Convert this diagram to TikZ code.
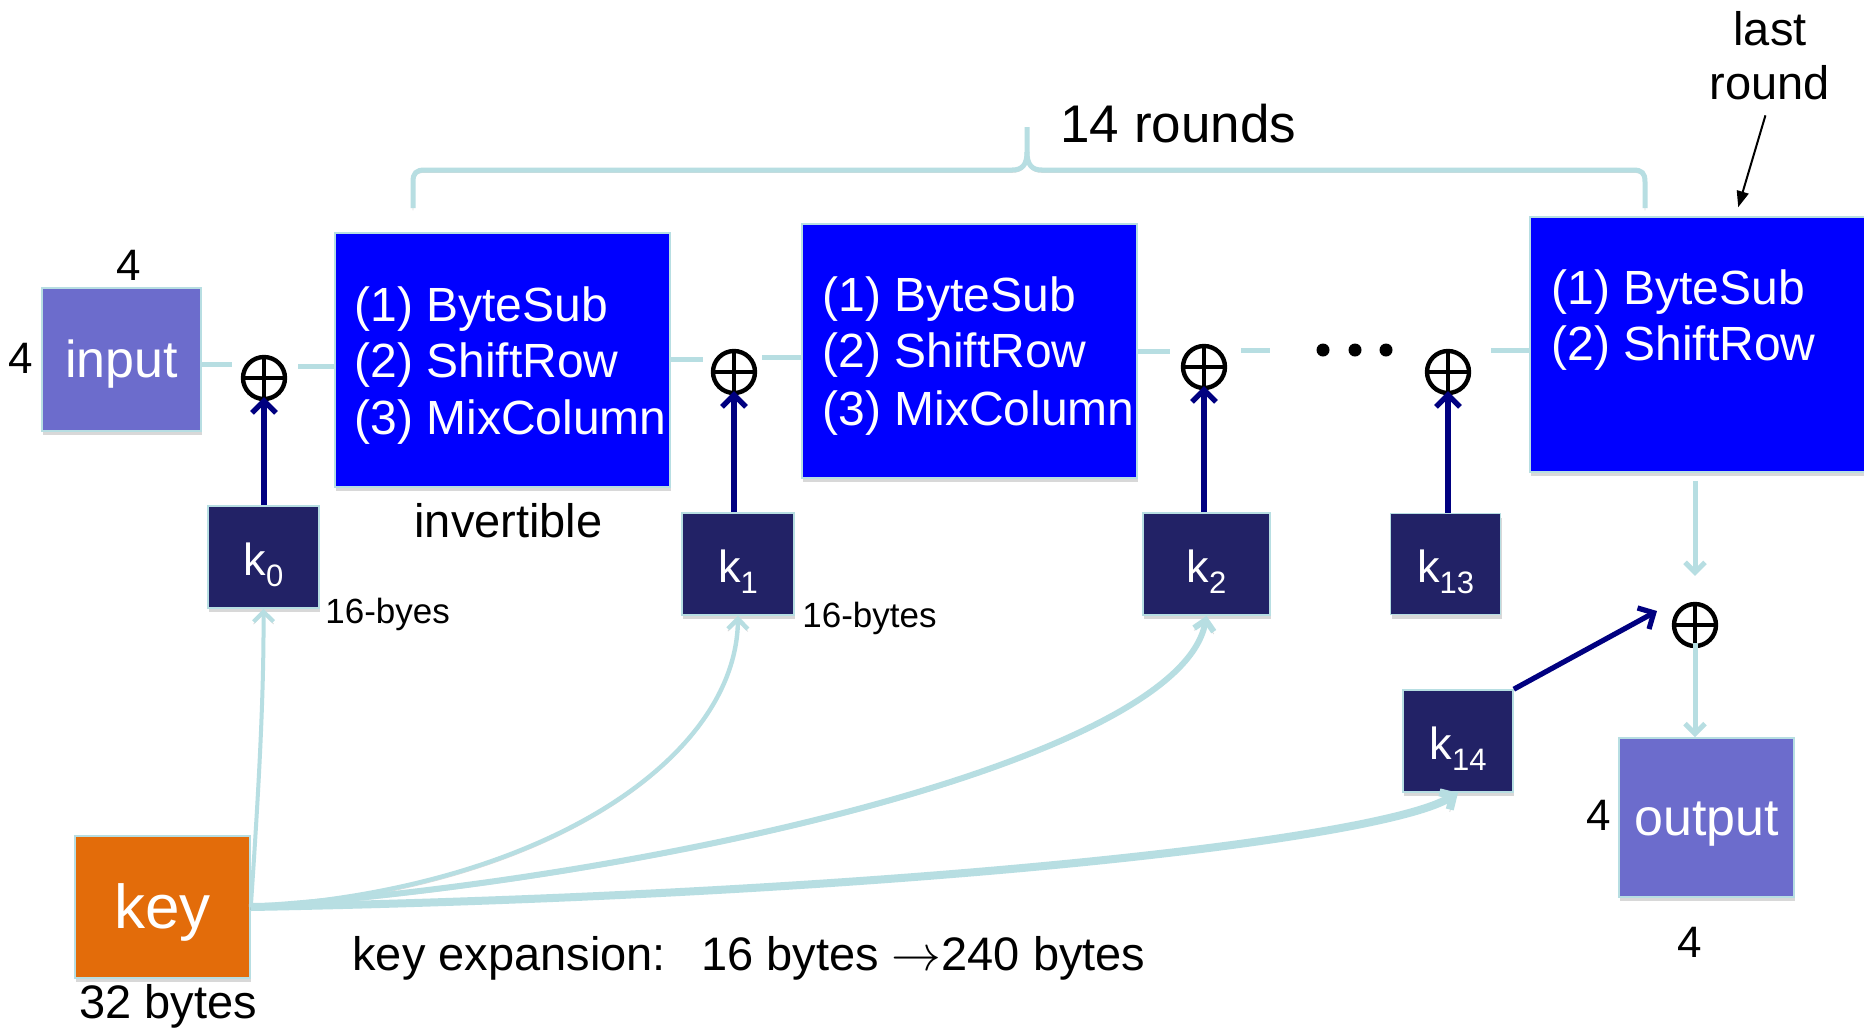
\documentclass[tikz,border=0pt]{standalone}
\usepackage{fontspec}
\setmainfont{Liberation Sans}
\usetikzlibrary{arrows.meta,calc,shadows}
\definecolor{lightc}{RGB}{183,222,226}
\definecolor{roundblue}{RGB}{0,0,255}
\definecolor{ioblue}{RGB}{108,108,204}
\definecolor{kblue}{RGB}{34,34,102}
\definecolor{keyorange}{RGB}{227,108,10}
\definecolor{navyc}{RGB}{0,0,128}
\newcommand\kk[1]{k\raisebox{-5.5pt}{\fontsize{15.5}{18}\selectfont #1}}
\begin{document}
\begin{tikzpicture}[x=0.5pt,y=-0.5pt,
  box/.style={draw=lightc, line width=0.8pt, inner sep=0pt, text=white,
    drop shadow={shadow xshift=0.6pt, shadow yshift=-2pt, opacity=0.3}},
  iobox/.style={box, fill=ioblue, font=\fontsize{26}{30}\selectfont, text height=20pt, text depth=2.5pt},
  roundbox/.style={box, fill=roundblue},
  kbox/.style={box, fill=kblue, font=\fontsize{22.5}{26}\selectfont, text height=20pt, text depth=2pt},
  keybox/.style={box, fill=keyorange, font=\fontsize{31}{36}\selectfont, text height=23pt, text depth=2pt},
  roundtxt/.style={anchor=base west, text=white, inner sep=0pt, font=\fontsize{24}{28}\selectfont},
  xorc/.style={circle, draw=black, line width=2.2pt, minimum size=21pt, inner sep=0pt,
    path picture={\draw[line width=1.6pt] (path picture bounding box.north) -- (path picture bounding box.south)
      (path picture bounding box.west) -- (path picture bounding box.east);}},
  lightline/.style={draw=lightc, line width=2.5pt,
    preaction={draw=black, opacity=0.15, transform canvas={yshift=-1.2pt}}},
  lightarrow/.style={lightline, -{Straight Barb[length=5pt,width=10pt]}},
  darkarrow/.style={draw=navyc, line width=2.6pt, -{Straight Barb[length=6pt,width=12pt]}},
  lbl/.style={inner sep=0pt, font=\fontsize{23.5}{28}\selectfont},
  four/.style={inner sep=0pt, font=\fontsize{22}{26}\selectfont},
  small/.style={anchor=base west, inner sep=0pt, font=\fontsize{17.5}{21}\selectfont},
  dot/.style={circle, fill=black, minimum size=6.5pt, inner sep=0pt}
]
\useasboundingbox (0,0) rectangle (1864,1029);
\fill[white] (0,0) rectangle (1864,1029);

% key and round-key boxes
\node[keybox, minimum width=87.5pt, minimum height=71pt] (key) at (162.5,907) {key};
\node[kbox, minimum width=55.5pt, minimum height=51pt] (k0) at (263.5,557) {\kk{0}};
\node[kbox, minimum width=56pt, minimum height=51pt] (k1) at (738,564) {\kk{1}};
\node[kbox, minimum width=63.5pt, minimum height=51pt] (k2) at (1206.5,564) {\kk{2}};
\node[kbox, minimum width=55pt, minimum height=50.5pt] (k13) at (1445.5,564) {\kk{13}};
\node[kbox, minimum width=55pt, minimum height=51pt] (k14) at (1458,741) {\kk{14}};

% key expansion curves
\draw[lightarrow, line width=2pt] (key.east) .. controls (258,800) and (264,700) .. (k0.south);
\draw[lightarrow, line width=2.2pt] (key.east) .. controls (540,890) and (736,760) .. (k1.south);
\draw[lightarrow, line width=3pt] (key.east) .. controls (650,880) and (1180,760) .. (k2.south);
\draw[lightarrow, line width=4pt] (key.east) .. controls (900,895) and (1380,840) .. (k14.south);

% main boxes
\node[iobox, minimum width=79.5pt, minimum height=71.5pt] (input) at (121.5,359.5) {input};
\node[roundbox, minimum width=167.5pt, minimum height=127pt] (b1) at (502.5,360) {};
\node[roundbox, minimum width=167.5pt, minimum height=127pt] (b2) at (969.5,351) {};
\node[roundbox, minimum width=172.5pt, minimum height=127.5pt] (b3) at (1702.5,344.5) {};
\node[iobox, minimum width=87.5pt, minimum height=79.5pt] (output) at (1706.5,817.5) {output};

\node[roundtxt] (t11) at ($(b1.north west)+(20,89)$) {(1) ByteSub};
\node[roundtxt] (t12) at ($(b1.north west)+(20,145)$) {(2) ShiftRow};
\node[roundtxt] (t13) at ($(b1.north west)+(20,202)$) {(3) MixColumn};
\node[roundtxt] (t21) at ($(b2.north west)+(21,88.5)$) {(1) ByteSub};
\node[roundtxt] (t22) at ($(b2.north west)+(21,144.5)$) {(2) ShiftRow};
\node[roundtxt] (t23) at ($(b2.north west)+(21,202)$) {(3) MixColumn};
\node[roundtxt] (t31) at ($(b3.north west)+(22,88)$) {(1) ByteSub};
\node[roundtxt] (t32) at ($(b3.north west)+(22,144)$) {(2) ShiftRow};

% xor circles
\node[xorc] (x1) at (264,378) {};
\node[xorc] (x2) at (734,372) {};
\node[xorc] (x3) at (1204,367) {};
\node[xorc] (x4) at (1448,372) {};
\node[xorc] (x5) at (1695,625) {};

% dots
\node[dot] (d1) at (1323,350) {};
\node[dot] (d2) at (1355,350) {};
\node[dot] (d3) at (1386,350) {};

% data path segments
\coordinate (s1) at (232,364);
\coordinate (s2) at (298,366);
\coordinate (s3) at (703,359);
\coordinate (s4) at (762,357);
\coordinate (s5) at (1170,351);
\coordinate (s6a) at (1241,350);
\coordinate (s6b) at (1270,350);
\coordinate (s7) at (1491,350);
\draw[lightline] (input.east |- s1) -- (s1);
\draw[lightline] (s2) -- (s2 -| b1.west);
\draw[lightline] (b1.east |- s3) -- (s3);
\draw[lightline] (s4) -- (s4 -| b2.west);
\draw[lightline] (b2.east |- s5) -- (s5);
\draw[lightline] (s6a) -- (s6b);
\draw[lightline] (s7) -- (s7 -| b3.west);

% round keys into xors
\draw[darkarrow, shorten >=-2pt] (x1 |- k0.north) -- (x1.south);
\draw[darkarrow, shorten >=-2pt] (x2 |- k1.north) -- (x2.south);
\draw[darkarrow, shorten >=-2pt] (x3 |- k2.north) -- (x3.south);
\draw[darkarrow, shorten >=-2pt] (x4 |- k13.north) -- (x4.south);
\draw[darkarrow] (k14.north east) -- ($(x5)+(-38,-14)$);

% last round to output
\draw[lightarrow, shorten <=4pt, shorten >=13pt] (x5 |- b3.south) -- (x5.north);
\draw[lightarrow, shorten <=-2.5pt] (x5.south) -- (x5 |- output.north);

% bracket
\draw[lightline] (413,208) -- (413,182) .. controls (413,173) and (416,170) .. (425,170) -- (1012,170)
  .. controls (1022,170) and (1027,165) .. (1027,152) -- (1027,127);
\draw[lightline] (1027,152) .. controls (1027,165) and (1032,170) .. (1042,170) -- (1633,170)
  .. controls (1642,170) and (1645,173) .. (1645,182) -- (1645,208);

% labels
\node[four] (n4a) at (129,265) {4};
\node[four] (n4b) at (21,358) {4};
\node[four] (n4c) at (1599,815) {4};
\node[four] (n4d) at (1690,942) {4};
\node[lbl, anchor=base] (inv) at (508.5,537) {invertible};
\node[small] (by0) at (325,623) {16-byes};
\node[small] (by1) at (802,627) {16-bytes};
\node[lbl, anchor=base west, font=\fontsize{26.5}{32}\selectfont] (r14) at (1060,142) {14 rounds};
\node[lbl, anchor=south, align=center, font=\fontsize{23.5}{27}\selectfont] (lr) at (1770,100) {last\\round};
\draw[black, line width=1pt, -{Triangle[length=8pt,width=6pt]}, shorten <=8pt] (lr.south) -- ($(b3.north west)+(209,-9)$);
\node[lbl, anchor=base west] (kx) at (352,970) {key expansion:\hspace{0.75em}16 bytes $\rightarrow$240 bytes};
\node[lbl, anchor=base west] (b32) at (79,1018) {32 bytes};
\end{tikzpicture}
\end{document}
